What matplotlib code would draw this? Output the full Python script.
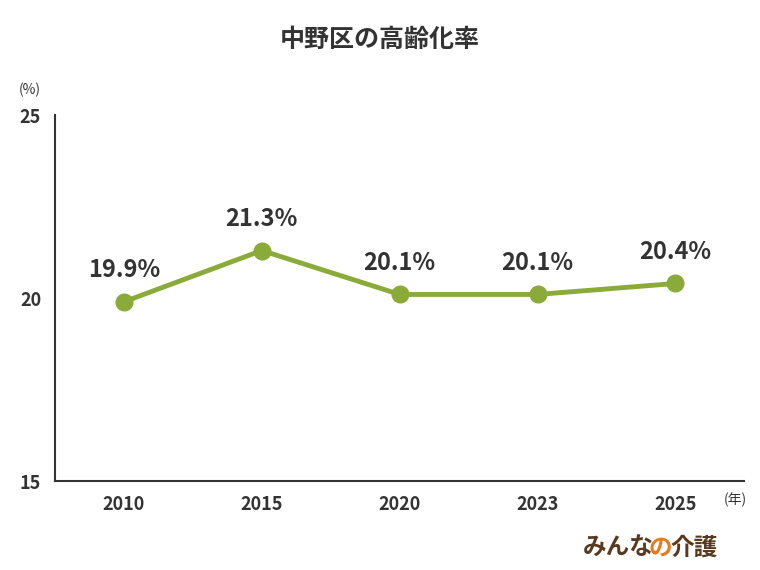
import matplotlib
matplotlib.use("Agg")
import matplotlib.pyplot as plt

plt.rcParams['font.family'] = ['Noto Sans CJK JP', 'DejaVu Sans']

years = ["2010", "2015", "2020", "2023", "2025"]
rates = [19.9, 21.3, 20.1, 20.1, 20.4]
labels = ["19.9%", "21.3%", "20.1%", "20.1%", "20.4%"]
yticks = [15, 20, 25]

fig = plt.figure(figsize=(7.6, 5.7), dpi=100)
ax = fig.add_axes([0.0724, 0.156, 0.907, 0.642])
x = list(range(len(years)))
ax.plot(x, rates, color="#8aab3a", lw=3.5, marker="o", ms=12, zorder=3)
for xi, r, l in zip(x, rates, labels):
    ax.annotate(l, (xi, r), xytext=(0, 14), textcoords="offset points",
                ha="center", va="bottom", fontsize=17, fontweight="bold", color="#333333")
ax.set_xlim(-0.5, 4.5)
ax.set_ylim(15, 25)
ax.set_xticks(x)
ax.set_xticklabels(years, fontsize=13, fontweight="bold", color="#333333")
ax.set_yticks(yticks)
ax.set_yticklabels([str(v) for v in yticks], fontsize=13, fontweight="bold", color="#333333")
ax.tick_params(length=0, pad=10)
for s in ["top", "right"]:
    ax.spines[s].set_visible(False)
for s in ["left", "bottom"]:
    ax.spines[s].set_color("#333333")
    ax.spines[s].set_linewidth(1.5)

fig.text(0.5, 1 - 40/570, "中野区の高齢化率", ha="center", va="center",
         fontsize=18, fontweight="bold", color="#333333")
fig.text(30/760, 1 - 90/570, "(%)", ha="center", va="center", fontsize=10, color="#333333")
fig.text(735/760, 1 - 500/570, "(年)", ha="center", va="center", fontsize=10, color="#333333")
# logo
fig.text(583/760, 1 - 548/570, "みんな", ha="left", va="center",
         fontsize=17, fontweight="bold", color="#5a3a1e")
fig.text(648/760, 1 - 548/570, "の", ha="left", va="center",
         fontsize=17, fontweight="bold", color="#e87a1e")
fig.text(670/760, 1 - 548/570, "介護", ha="left", va="center",
         fontsize=17, fontweight="bold", color="#5a3a1e")
fig.savefig("out.png", dpi=100)
